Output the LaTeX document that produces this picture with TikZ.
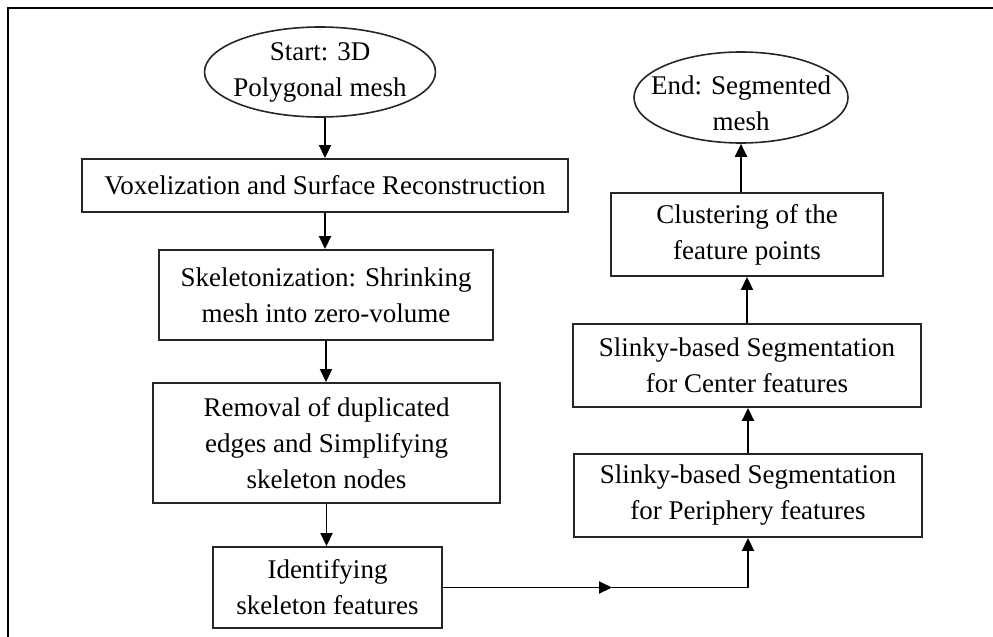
\documentclass[tikz,border=0pt]{standalone}
\usepackage{fontspec}
\setmainfont{Liberation Serif}
\usetikzlibrary{arrows.meta,shapes.geometric}
\begin{document}
\begin{tikzpicture}[x=1pt,y=-1pt,
  every node/.style={font=\fontsize{27}{36}\selectfont, align=center, inner sep=0pt},
  box/.style={draw=black!85, line width=1.9pt, rectangle},
  oval/.style={draw=black!85, line width=1.6pt, ellipse},
  arr/.style={line width=1.9pt, -{Triangle[length=13pt,width=12pt]}}]
\useasboundingbox (0,0) rectangle (993,637);
\draw[line width=2.5pt] (8,637) -- (8,8) -- (993,8);
\node[oval, minimum width=231pt, minimum height=90pt, label={center:{Start: 3D\\Polygonal mesh}}] (start) at (320,72) {};
\node[box, minimum width=486pt, minimum height=53pt] (vox) at (325,185.5) {Voxelization and Surface Reconstruction};
\node[box, minimum width=334pt, minimum height=90pt] (skel) at (326,295) {Skeletonization: Shrinking\\mesh into zero-volume};
\node[box, minimum width=347pt, minimum height=120pt] (rem) at (326.5,443) {Removal of duplicated\\edges and Simplifying\\skeleton nodes};
\node[box, minimum width=229pt, minimum height=81pt] (ident) at (327.5,587.5) {Identifying\\skeleton features};
\node[box, minimum width=348pt, minimum height=83pt] (peri) at (748,495.5) {Slinky-based Segmentation\\for Periphery features};
\node[box, minimum width=348pt, minimum height=83pt] (cent) at (747,365.5) {Slinky-based Segmentation\\for Center features};
\node[box, minimum width=272pt, minimum height=83pt] (clus) at (747,234.5) {Clustering of the\\feature points};
\node[oval, minimum width=214pt, minimum height=91pt, label={[yshift=-6pt]center:{End: Segmented\\mesh}}] (end) at (741,97.5) {};
\coordinate (mid) at (612,587.5);
\draw[arr] (vox.north |- start.south) -- (vox.north);
\draw[arr] (vox.south) -- (vox.south |- skel.north);
\draw[arr] (skel.south) -- (skel.south |- rem.north);
\draw[arr] (rem.south) -- (rem.south |- ident.north);
\draw[arr] (ident.east) -- (mid);
\draw[arr] (mid) -| (peri.south);
\draw[arr] (peri.north) -- (peri.north |- cent.south);
\draw[arr] (cent.north) -- (clus.south);
\draw[arr] (clus.north -| end.south) -- (end.south);
\end{tikzpicture}
\end{document}
